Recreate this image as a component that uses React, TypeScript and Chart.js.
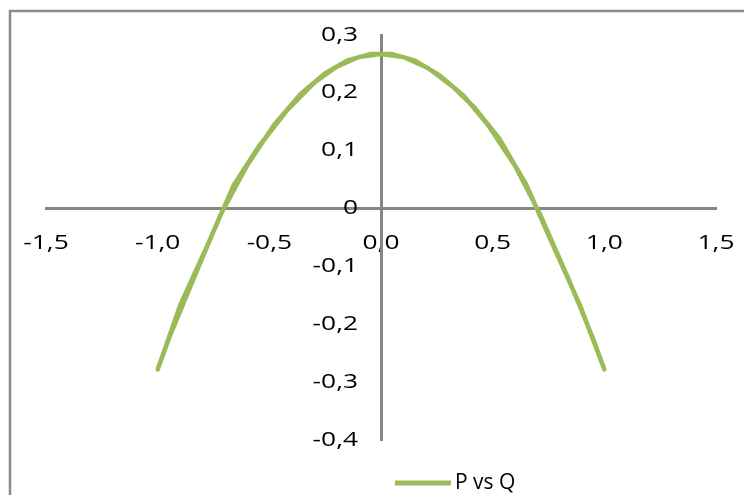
import React, { useEffect, useRef } from "react";
import { Chart, registerables } from "chart.js";

Chart.register(...registerables);

// Outbound sweep of the P–Q loop (Q increasing)
const forwardQ = [-1.0, -0.9, -0.78, -0.66, -0.55, -0.42, -0.3, -0.2, -0.1, 0.0, 0.1, 0.21, 0.32, 0.42, 0.53, 0.65, 0.76, 0.89, 1.0];
const forwardP = [-0.278, -0.168, -0.066, 0.04, 0.106, 0.17, 0.217, 0.245, 0.262, 0.267, 0.262, 0.243, 0.211, 0.174, 0.121, 0.042, -0.055, -0.166, -0.278];

// Return sweep (Q decreasing)
const returnQ = [1.0, 0.95, 0.84, 0.71, 0.6, 0.48, 0.37, 0.26, 0.15, 0.05, -0.05, -0.15, -0.25, -0.36, -0.48, -0.6, -0.72, -0.84, -0.95, -1.0];
const returnP = [-0.278, -0.225, -0.122, -0.008, 0.074, 0.144, 0.195, 0.231, 0.256, 0.267, 0.267, 0.256, 0.234, 0.198, 0.144, 0.074, -0.012, -0.122, -0.225, -0.278];

const seriesName = "P vs Q";

const xTickLabels = ["-1,5", "-1,0", "-0,5", "0,0", "0,5", "1,0", "1,5"];
const yTickLabels = ["-0,4", "-0,3", "-0,2", "-0,1", "0", "0,1", "0,2", "0,3"];

const GREEN = "#9BBB59";
const AXIS_GREY = "#868686";
const FONT = "'Open Sans', 'Liberation Sans', sans-serif";
// axis numbers are rendered slightly widened
const TEXT_STRETCH = 1.35;
// x value at which the value labels of the vertical axis are anchored (just left of the axis line)
const Y_LABEL_ANCHOR = -0.103;

const wideTextPlugin = {
  id: "wideText",
  beforeInit(chart: any) {
    const ctx = chart.ctx;
    const plain = CanvasRenderingContext2D.prototype.fillText;
    ctx.fillText = (text: string, x: number, y: number, maxWidth?: number) => {
      ctx.save();
      ctx.translate(x, y);
      ctx.scale(TEXT_STRETCH, 1);
      if (maxWidth === undefined) plain.call(ctx, text, 0, 0);
      else plain.call(ctx, text, 0, 0, maxWidth / TEXT_STRETCH);
      ctx.restore();
    };
  },
};

const framePlugin = {
  id: "frame",
  beforeDraw(chart: any) {
    const { ctx, width, height } = chart;
    ctx.save();
    ctx.strokeStyle = "#8c8c8c";
    ctx.lineWidth = 2.5;
    ctx.beginPath();
    ctx.moveTo(10, height + 5);
    ctx.lineTo(10, 11);
    ctx.lineTo(width + 5, 11);
    ctx.stroke();
    ctx.restore();
  },
};

const legendPlugin = {
  id: "bottomLegend",
  afterDraw(chart: any) {
    const { ctx } = chart;
    const ds = chart.data.datasets[0];
    const y = 483;
    ctx.save();
    ctx.strokeStyle = ds.borderColor;
    ctx.lineWidth = 5;
    ctx.lineCap = "butt";
    ctx.beginPath();
    ctx.moveTo(395, y);
    ctx.lineTo(451, y);
    ctx.stroke();
    ctx.fillStyle = "#000";
    ctx.font = `21px ${FONT}`;
    ctx.textAlign = "left";
    ctx.textBaseline = "middle";
    CanvasRenderingContext2D.prototype.fillText.call(ctx, ds.label, 455, y);
    ctx.restore();
  },
};

export default function App() {
  const canvasRef = useRef<HTMLCanvasElement | null>(null);

  useEffect(() => {
    const canvas = canvasRef.current;
    if (!canvas) return;

    const points = [
      ...forwardQ.map((q, i) => ({ x: q, y: forwardP[i] })),
      ...returnQ.map((q, i) => ({ x: q, y: returnP[i] })),
    ];

    const tickFont = { family: FONT, size: 19.5 };

    const chart = new Chart(canvas, {
      type: "scatter",
      data: {
        datasets: [
          {
            label: seriesName,
            data: points,
            showLine: true,
            borderColor: GREEN,
            backgroundColor: GREEN,
            borderWidth: 4.5,
            borderCapStyle: "round",
            borderJoinStyle: "round",
            pointRadius: 0,
            pointHoverRadius: 0,
            tension: 0,
            fill: false,
          },
        ],
      },
      options: {
        responsive: false,
        maintainAspectRatio: false,
        animation: false,
        devicePixelRatio: 1,
        layout: { padding: { left: 46, right: 28, top: 35, bottom: 55 } },
        plugins: {
          legend: { display: false },
          tooltip: { enabled: false },
          title: { display: false },
        },
        scales: {
          x: {
            type: "linear",
            position: { y: 0 },
            min: -1.5,
            max: 1.5,
            // no visible tick marks; tickLength only sets the gap below the axis line
            grid: { display: false, drawTicks: true, tickLength: 23 },
            border: { display: true, color: AXIS_GREY, width: 3 },
            ticks: {
              stepSize: 0.5,
              autoSkip: false,
              maxRotation: 0,
              padding: 0,
              color: "#000",
              font: tickFont,
              callback: (_v: any, i: number) => xTickLabels[i],
            },
          },
          y: {
            type: "linear",
            position: { x: 0 },
            min: -0.4,
            max: 0.3,
            grid: { display: false, drawTicks: false },
            border: { display: true, color: AXIS_GREY, width: 3 },
            ticks: { display: false, stepSize: 0.1 },
          },
          yLabels: {
            type: "linear",
            axis: "y",
            position: { x: Y_LABEL_ANCHOR },
            min: -0.4,
            max: 0.3,
            grid: { display: false, drawTicks: false },
            border: { display: false },
            ticks: {
              stepSize: 0.1,
              autoSkip: false,
              padding: 0,
              color: "#000",
              font: tickFont,
              callback: (_v: any, i: number) => yTickLabels[i],
            },
          },
        },
      },
      plugins: [wideTextPlugin, framePlugin, legendPlugin],
    });

    return () => chart.destroy();
  }, []);

  return (
    <div style={{ position: "fixed", left: 0, top: 0, width: 744, height: 495, background: "#fff" }}>
      <canvas ref={canvasRef} width={744} height={495} style={{ display: "block" }} />
    </div>
  );
}
